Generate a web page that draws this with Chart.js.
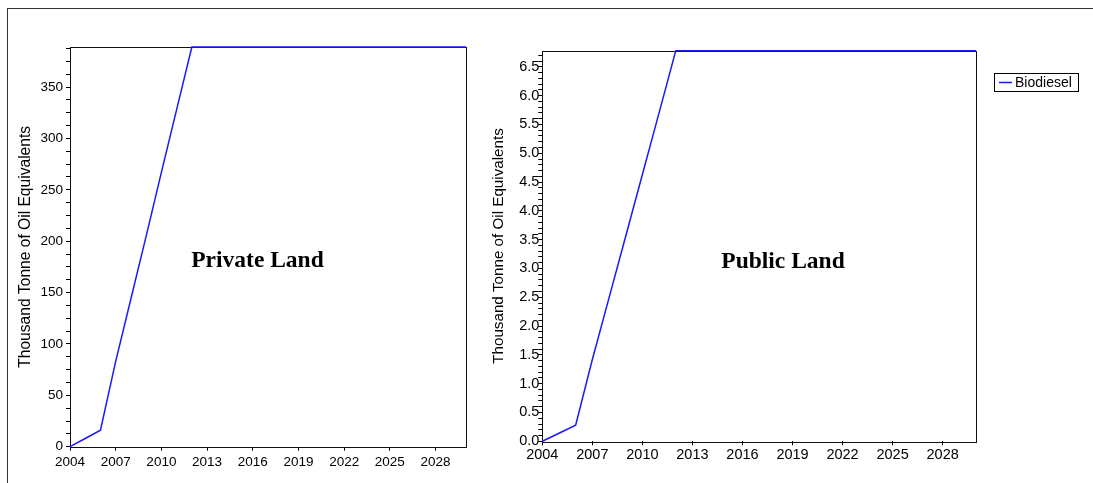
<!DOCTYPE html>
<html>
<head>
<meta charset="utf-8">
<script src="https://cdn.jsdelivr.net/npm/chart.js@4/dist/chart.umd.min.js"></script>
<style>
  html, body { margin: 0; padding: 0; background: #fff; }
  #page { position: relative; width: 1093px; height: 483px; overflow: hidden; }
  #frame { position: absolute; left: 7px; top: 8px; width: 1200px; height: 600px;
           border-top: 1px solid #333; border-left: 1px solid #333; }
  canvas { position: absolute; top: 0; }
  #cPrivate { left: 0; }
  #cPublic { left: 480px; }
</style>
</head>
<body>
<div id="page">
  <div id="frame"></div>
  <canvas id="cPrivate" width="480" height="483"></canvas>
  <canvas id="cPublic" width="613" height="483"></canvas>
</div>
<script>
// Years on the horizontal axis
const years = [2004, 2005, 2006, 2007, 2008, 2009, 2010, 2011, 2012, 2013, 2014, 2015, 2016, 2017,
               2018, 2019, 2020, 2021, 2022, 2023, 2024, 2025, 2026, 2027, 2028, 2029, 2030];

// Biodiesel output, thousand tonne of oil equivalents
const privateLand = [0, 8, 16, 83, 144, 205, 267, 328, 389, 389, 389, 389, 389, 389,
                     389, 389, 389, 389, 389, 389, 389, 389, 389, 389, 389, 389, 389];
const publicLand = [0, 0.14, 0.28, 1.42, 2.49, 3.56, 4.63, 5.70, 6.78, 6.78, 6.78, 6.78, 6.78, 6.78,
                    6.78, 6.78, 6.78, 6.78, 6.78, 6.78, 6.78, 6.78, 6.78, 6.78, 6.78, 6.78, 6.78];

const seriesName = 'Biodiesel';
const panelNames = ['Private Land', 'Public Land'];
const axisTitle = 'Thousand Tonne of Oil Equivalents';

const LINE = '#1a1aff';
const SANS = '"Liberation Sans", Arial, sans-serif';
const SERIF = '"Liberation Serif", "Times New Roman", serif';

// Frame around the plotting area, drawn under the line so the plateau covers the top edge
const frameBox = {
  id: 'frameBox',
  beforeDatasetsDraw(chart) {
    const { ctx, chartArea: a } = chart;
    ctx.save();
    ctx.strokeStyle = '#111';
    ctx.lineWidth = 1;
    ctx.strokeRect(Math.round(a.left) + 0.5, Math.round(a.top) + 0.5,
                   Math.round(a.right - a.left), Math.round(a.bottom - a.top));
    ctx.restore();
  }
};

// Panel caption inside the plot
const caption = {
  id: 'caption',
  afterDraw(chart, args, opts) {
    const { ctx } = chart;
    ctx.save();
    ctx.font = 'bold 23.5px ' + SERIF;
    ctx.fillStyle = '#000';
    ctx.textAlign = 'center';
    ctx.textBaseline = 'alphabetic';
    ctx.fillText(opts.text, opts.x, opts.y);
    ctx.restore();
  }
};

// Boxed legend to the right of the second panel
const boxLegend = {
  id: 'boxLegend',
  afterDraw(chart, args, opts) {
    if (!opts.show) return;
    const { ctx } = chart;
    const ds = chart.data.datasets[0];
    ctx.save();
    ctx.strokeStyle = '#000';
    ctx.lineWidth = 1;
    ctx.strokeRect(514.5, 73.5, 84, 18);
    ctx.strokeStyle = ds.borderColor;
    ctx.lineWidth = 1.5;
    ctx.beginPath();
    ctx.moveTo(519, 82.5);
    ctx.lineTo(532, 82.5);
    ctx.stroke();
    ctx.font = '14px ' + SANS;
    ctx.fillStyle = '#000';
    ctx.textAlign = 'left';
    ctx.textBaseline = 'middle';
    ctx.fillText(ds.label, 535, 83);
    ctx.restore();
  }
};

function makeChart(canvasId, values, cfg) {
  const points = years.map((y, i) => ({ x: y, y: values[i] }));
  return new Chart(document.getElementById(canvasId), {
    type: 'line',
    data: {
      datasets: [{
        label: seriesName,
        data: points,
        borderColor: LINE,
        borderWidth: 1.5,
        pointRadius: 0,
        tension: 0,
        clip: false
      }]
    },
    plugins: [frameBox, caption, boxLegend],
    options: {
      responsive: false,
      animation: false,
      events: [],
      layout: { padding: cfg.padding },
      plugins: {
        legend: { display: false },
        tooltip: { enabled: false },
        caption: cfg.caption,
        boxLegend: { show: cfg.legend }
      },
      scales: {
        x: {
          type: 'linear',
          min: 2004,
          max: 2030,
          afterFit(s) { s.height = cfg.xHeight; },
          grid: { display: true, drawOnChartArea: false, drawTicks: true, tickLength: 4, color: '#000' },
          border: { display: false },
          ticks: {
            stepSize: 3,
            includeBounds: false,
            autoSkip: false,
            maxRotation: 0,
            padding: cfg.xPad,
            color: '#000',
            font: { family: SANS, size: cfg.fontSize },
            callback: v => String(v)
          }
        },
        y: {
          type: 'linear',
          min: 0,
          max: Math.max(...values),
          afterFit(s) { s.width = cfg.yWidth; },
          grid: { display: true, drawOnChartArea: false, drawTicks: true, tickLength: 4, color: '#000' },
          border: { display: false },
          title: {
            display: true,
            text: axisTitle,
            color: '#000',
            font: { family: SANS, size: cfg.titleSize },
            padding: { top: cfg.titlePad, bottom: 0 }
          },
          ticks: {
            stepSize: cfg.minorStep,
            includeBounds: false,
            autoSkip: false,
            padding: cfg.yPad,
            color: '#000',
            font: { family: SANS, size: cfg.fontSize },
            callback: cfg.yLabel
          }
        }
      }
    }
  });
}

makeChart('cPrivate', privateLand, {
  padding: { left: 0, top: 47, right: 14, bottom: 0 },
  xHeight: 36.3,
  yWidth: 70,
  xPad: 3,
  yPad: 3,
  titleSize: 15.6,
  titlePad: 16.6,
  fontSize: 13.5,
  minorStep: 12.5,
  yLabel: v => (Math.abs(v / 50 - Math.round(v / 50)) < 1e-6 ? String(v) : ''),
  caption: { text: panelNames[0], x: 257.5, y: 267 },
  legend: false
});

makeChart('cPublic', publicLand, {
  padding: { left: 0, top: 50.7, right: 117, bottom: 0 },
  xHeight: 41.7,
  yWidth: 62.3,
  xPad: 1,
  yPad: -1,
  titleSize: 15.2,
  titlePad: 9.9,
  fontSize: 14.5,
  minorStep: 0.1,
  yLabel: v => (Math.abs(v * 2 - Math.round(v * 2)) < 1e-6 ? v.toFixed(1) : ''),
  caption: { text: panelNames[1], x: 303, y: 267.7 },
  legend: true
});
</script>
</body>
</html>
